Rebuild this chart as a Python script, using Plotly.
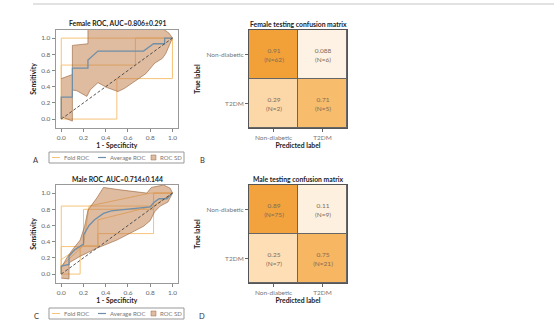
import plotly.graph_objects as go

W, H = 554, 328
FONT = "Lato"

# ---------------- data ----------------
chance_x = [0, 1]
chance_y = [0, 1]

# Female ROC
female_title = "Female ROC, AUC=0.806±0.291"
female_fold_x = [[0, 0, 1],
                 [0, 0, 0.667, 0.667, 1],
                 [0, 0.5, 0.5, 1, 1]]
female_fold_y = [[0, 1, 1],
                 [0, 0.667, 0.667, 1, 1],
                 [0, 0, 0.5, 0.5, 1]]
female_mean_x = [0, 0, 0.1, 0.1, 0.24, 0.24, 0.33, 0.74, 0.83, 0.93, 0.93, 1]
female_mean_y = [0, 0.27, 0.27, 0.63, 0.63, 0.73, 0.84, 0.84, 0.93, 0.93, 1.0, 1.0]
female_up_x = [0, 0.1, 0.1, 0.24, 0.24, 0.5, 0.8, 0.93, 0.97, 1]
female_up_y = [0.5, 0.55, 0.91, 0.93, 1.2, 1.2, 1.2, 1.1, 1.06, 1.0]
female_lo_x = [0, 0.1, 0.1, 0.14, 0.23, 0.26, 0.33, 0.41, 0.51, 0.57, 0.68, 0.76, 0.84, 0.91, 0.94, 1]
female_lo_y = [0.03, -0.025, 0.36, 0.35, 0.28, 0.36, 0.45, 0.39, 0.34, 0.38, 0.48, 0.56, 0.69, 0.75, 0.81, 1.0]

# Male ROC
male_title = "Male ROC, AUC=0.714±0.144"
male_fold_x = [[0, 0, 0.83, 0.83, 1],
               [0, 0.17, 0.17, 0.2, 0.2, 0.83, 0.83, 1],
               [0, 0, 0.33, 0.33, 0.83, 0.83, 1],
               [0, 0, 0.2, 0.25, 0.8, 1],
               [0, 0, 0.2, 0.33, 0.33, 0.83, 1]]
male_fold_y = [[0, 0.84, 0.84, 1, 1],
               [0, 0, 0.34, 0.34, 0.8, 0.8, 1, 1],
               [0, 0.34, 0.34, 0.5, 0.5, 0.84, 1],
               [0, 0.18, 0.36, 0.84, 1, 1],
               [0, 0.1, 0.35, 0.35, 0.67, 0.84, 1]]
male_mean_x = [0, 0, 0.07, 0.07, 0.12, 0.2, 0.2, 0.25, 0.3, 0.38, 0.45, 0.6, 0.8, 0.83, 0.88, 0.95, 1]
male_mean_y = [0, 0.1, 0.12, 0.22, 0.3, 0.37, 0.48, 0.6, 0.67, 0.75, 0.78, 0.8, 0.83, 0.88, 0.93, 0.93, 1.0]
male_up_x = [0, 0.05, 0.1, 0.17, 0.21, 0.24, 0.32, 0.38, 0.53, 0.77, 0.81, 0.92, 0.98, 1]
male_up_y = [0.08, 0.2, 0.3, 0.42, 0.59, 0.79, 0.94, 1.07, 1.04, 1.0, 1.07, 1.1, 1.06, 1.0]
male_lo_x = [0, 0.07, 0.07, 0.17, 0.32, 0.5, 0.65, 0.74, 0.8, 0.84, 0.89, 0.96, 1]
male_lo_y = [-0.05, -0.06, 0.14, 0.22, 0.32, 0.42, 0.53, 0.59, 0.66, 0.77, 0.84, 0.89, 1.0]

# Confusion matrices
cm_labels = ["Non-diabetic", "T2DM"]
female_cm_title = "Female testing confusion matrix"
female_rates = [[0.91, 0.088], [0.29, 0.71]]
female_counts = [[62, 6], [2, 5]]
male_cm_title = "Male testing confusion matrix"
male_rates = [[0.89, 0.11], [0.25, 0.75]]
male_counts = [[75, 9], [7, 21]]

legend_labels = ["Fold ROC", "Average ROC", "ROC SD"]
panel_letters = ["A", "B", "C", "D"]

# ---------------- styles ----------------
FOLD_C = "rgba(245,188,105,0.9)"
MEAN_C = "#6f8fa8"
SD_FILL = "rgba(196,132,82,0.55)"
SD_LINE = "rgba(150,95,55,0.75)"
CHANCE_C = "#444444"
CM_SCALE = [[0, "#FFF8F0"], [0.1, "#FEF1E2"], [0.3, "#FCD7A6"],
            [0.7, "#F7BD6F"], [0.9, "#F2A23A"], [1, "#F09A2C"]]


def pxx(x):
    return x / W


def pyy(y):
    return 1 - y / H


fig = go.Figure()


def add_roc(fx, fy, mx, my, ux, uy, lx, ly, xa, ya):
    for x, y in zip(fx, fy):
        fig.add_trace(go.Scatter(x=x, y=y, mode="lines", line=dict(color=FOLD_C, width=1),
                                 xaxis=xa, yaxis=ya, showlegend=False, hoverinfo="skip"))
    fig.add_trace(go.Scatter(x=ux + lx[::-1], y=uy + ly[::-1], mode="lines", fill="toself",
                             fillcolor=SD_FILL, line=dict(color=SD_LINE, width=0.8),
                             xaxis=xa, yaxis=ya, showlegend=False, hoverinfo="skip"))
    fig.add_trace(go.Scatter(x=mx, y=my, mode="lines", line=dict(color=MEAN_C, width=1.3),
                             xaxis=xa, yaxis=ya, showlegend=False))
    fig.add_trace(go.Scatter(x=chance_x, y=chance_y, mode="lines",
                             line=dict(color=CHANCE_C, width=0.9, dash="3px,2px"),
                             xaxis=xa, yaxis=ya, showlegend=False, hoverinfo="skip"))


add_roc(female_fold_x, female_fold_y, female_mean_x, female_mean_y,
        female_up_x, female_up_y, female_lo_x, female_lo_y, "x", "y")
add_roc(male_fold_x, male_fold_y, male_mean_x, male_mean_y,
        male_up_x, male_up_y, male_lo_x, male_lo_y, "x3", "y3")


def add_cm(rates, counts, xa, ya):
    text = [[f"{r:g}<br>(N={c})" for r, c in zip(rr, cc)] for rr, cc in zip(rates, counts)]
    fig.add_trace(go.Heatmap(z=rates, x=cm_labels, y=cm_labels, text=text,
                             texttemplate="%{text}", textfont=dict(family=FONT, size=6.5, color="#7d6b58"),
                             colorscale=CM_SCALE, zmin=0, zmax=1, showscale=False,
                             xgap=1, ygap=1, xaxis=xa, yaxis=ya))


add_cm(female_rates, female_counts, "x2", "y2")
add_cm(male_rates, male_counts, "x4", "y4")

roc_x_dom = [pxx(55.7), pxx(178)]
cm_x_dom = [pxx(249), pxx(347)]
top_dom = [pyy(128), pyy(30)]
bot_dom = [pyy(283), pyy(185)]

tickfont = dict(family=FONT, size=6.5, color="#666")
titlefont = dict(family=FONT, size=6.8, color="#222")


def roc_axes(dom_x, dom_y, anchor_x, anchor_y):
    xa = dict(domain=dom_x, anchor=anchor_y, range=[-0.05, 1.05],
              tickvals=[0, 0.2, 0.4, 0.6, 0.8, 1.0], tickformat=".1f",
              ticks="outside", ticklen=3, tickcolor="#888", tickwidth=0.8,
              showline=True, mirror=True, linecolor="#999", linewidth=1,
              showgrid=False, zeroline=False, tickfont=tickfont,
              title=dict(text="<b>1 - Specificity</b>", font=titlefont, standoff=3))
    ya = dict(domain=dom_y, anchor=anchor_x, range=[-0.11, 1.1],
              tickvals=[0, 0.2, 0.4, 0.6, 0.8, 1.0], tickformat=".1f",
              ticks="outside", ticklen=3, tickcolor="#888", tickwidth=0.8,
              showline=True, mirror=True, linecolor="#999", linewidth=1,
              showgrid=False, zeroline=False, tickfont=tickfont,
              title=dict(text="<b>Sensitivity</b>", font=titlefont, standoff=3))
    return xa, ya


def cm_axes(dom_x, dom_y, anchor_x, anchor_y):
    xa = dict(domain=dom_x, anchor=anchor_y, ticks="outside", ticklen=3, tickcolor="#666",
              tickwidth=0.8, showline=True, mirror=True, linecolor="#555", linewidth=1,
              showgrid=False, zeroline=False, tickfont=dict(family=FONT, size=6.5, color="#777"),
              title=dict(text="<b>Predicted label</b>", font=titlefont, standoff=2))
    ya = dict(domain=dom_y, anchor=anchor_x, ticks="outside", ticklen=3, tickcolor="#666",
              tickwidth=0.8, showline=True, mirror=True, linecolor="#555", linewidth=1,
              autorange="reversed", showgrid=False, zeroline=False,
              tickfont=dict(family=FONT, size=6.5, color="#777"),
              title=dict(text="<b>True label</b>", font=titlefont, standoff=5))
    return xa, ya


x1, y1 = roc_axes(roc_x_dom, top_dom, "x", "y")
x3, y3 = roc_axes(roc_x_dom, bot_dom, "x3", "y3")
x2, y2 = cm_axes(cm_x_dom, top_dom, "x2", "y2")
x4, y4 = cm_axes(cm_x_dom, bot_dom, "x4", "y4")

shapes = []
annotations = []

# dark background under heatmaps -> cell separators
for xr, yr in [("x2", "y2"), ("x4", "y4")]:
    shapes.append(dict(type="rect", xref=f"{xr} domain", yref=f"{yr} domain",
                       x0=0, x1=1, y0=0, y1=1, fillcolor="#666", line=dict(width=0), layer="below"))

# top rule
shapes.append(dict(type="line", xref="paper", yref="paper", x0=pxx(33), x1=1, y0=pyy(4), y1=pyy(4),
                   line=dict(color="#e2e2e2", width=2)))

# titles
for text, cx, cy in [(female_title, 117, 24), (female_cm_title, 298, 24),
                     (male_title, 117, 179), (male_cm_title, 298, 179)]:
    annotations.append(dict(text=f"<b>{text}</b>", x=pxx(cx), y=pyy(cy), xref="paper", yref="paper",
                            showarrow=False, font=titlefont, xanchor="center", yanchor="middle"))

# manual legends
for top in [152, 308]:
    mid = top + 5.5
    shapes.append(dict(type="rect", xref="paper", yref="paper", x0=pxx(49), x1=pxx(184),
                       y0=pyy(top + 11), y1=pyy(top), line=dict(color="#999", width=1),
                       fillcolor="white"))
    shapes.append(dict(type="line", xref="paper", yref="paper", x0=pxx(52), x1=pxx(60),
                       y0=pyy(mid), y1=pyy(mid), line=dict(color=FOLD_C, width=1)))
    shapes.append(dict(type="line", xref="paper", yref="paper", x0=pxx(98), x1=pxx(106),
                       y0=pyy(mid), y1=pyy(mid), line=dict(color=MEAN_C, width=1.2)))
    shapes.append(dict(type="rect", xref="paper", yref="paper", x0=pxx(151), x1=pxx(156),
                       y0=pyy(mid + 2.5), y1=pyy(mid - 2.5), line=dict(color=SD_LINE, width=0.6),
                       fillcolor=SD_FILL))
    for lab, lx in zip(legend_labels, [62, 108, 158]):
        annotations.append(dict(text=lab, x=pxx(lx), y=pyy(mid), xref="paper", yref="paper",
                                showarrow=False, xanchor="left", yanchor="middle",
                                font=dict(family=FONT, size=6, color="#777")))

# panel letters
for lab, lx, ly in zip(panel_letters, [36, 202, 36, 202], [160, 160, 316, 316]):
    annotations.append(dict(text=lab, x=pxx(lx), y=pyy(ly), xref="paper", yref="paper",
                            showarrow=False, xanchor="center", yanchor="middle",
                            font=dict(family=FONT, size=7.5, color="#333")))

fig.update_layout(width=W, height=H, margin=dict(l=0, r=0, t=0, b=0),
                  paper_bgcolor="white", plot_bgcolor="white",
                  font=dict(family=FONT),
                  xaxis=x1, yaxis=y1, xaxis2=x2, yaxis2=y2, xaxis3=x3, yaxis3=y3,
                  xaxis4=x4, yaxis4=y4, shapes=shapes, annotations=annotations,
                  showlegend=False)

fig.write_html("out.html")
